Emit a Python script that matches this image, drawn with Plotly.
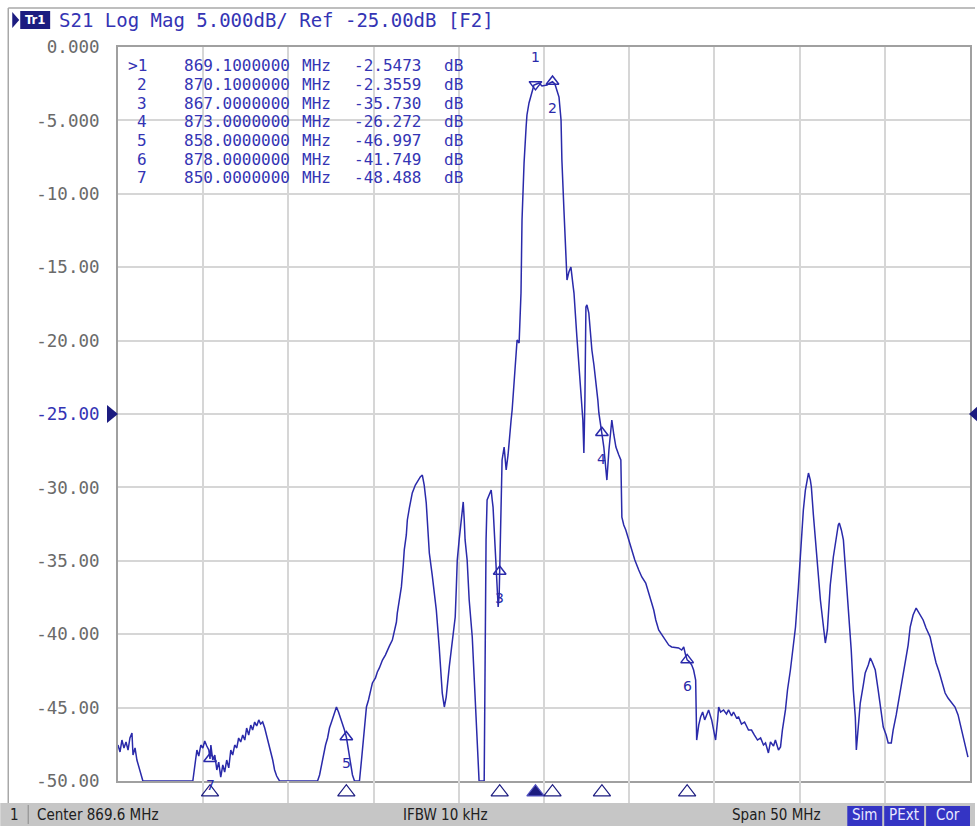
import plotly.graph_objects as go

# ---------------- data ----------------
freq_mhz = [
    844.60, 844.72, 844.83, 844.95, 845.07, 845.19, 845.30, 845.42, 845.48, 845.60,
    845.71, 845.83, 845.95, 846.06, 848.99, 849.11, 849.23, 849.34, 849.46, 849.58,
    849.69, 849.81, 849.93, 850.00, 850.05, 850.16, 850.28, 850.40, 850.51, 850.63,
    850.75, 850.86, 850.98, 851.10, 851.22, 851.33, 851.45, 851.57, 851.68, 851.80,
    851.92, 852.04, 852.15, 852.27, 852.39, 852.50, 852.62, 852.74, 852.86, 852.97,
    853.09, 853.21, 853.32, 853.44, 853.56, 853.68, 853.79, 853.91, 854.08, 856.31,
    856.43, 856.54, 856.66, 856.78, 856.90, 857.01, 857.13, 857.25, 857.36, 857.42,
    857.54, 857.66, 857.77, 857.89, 858.00, 858.12, 858.24, 858.36, 858.48, 858.77,
    858.89, 859.00, 859.12, 859.18, 859.30, 859.41, 859.53, 859.71, 859.82, 859.94,
    860.12, 860.29, 860.41, 860.53, 860.70, 860.82, 860.94, 860.99, 861.11, 861.23,
    861.34, 861.40, 861.52, 861.58, 861.70, 861.87, 862.05, 862.22, 862.34, 862.46,
    862.57, 862.69, 862.81, 862.87, 863.04, 863.16, 863.28, 863.45, 863.57, 863.63,
    863.75, 863.86, 864.04, 864.16, 864.27, 864.39, 864.45, 864.51, 864.62, 864.74,
    864.80, 864.86, 864.92, 864.97, 865.09, 865.21, 865.39, 865.50, 865.62, 865.74,
    865.79, 866.09, 866.15, 866.20, 866.26, 866.38, 866.50, 866.56, 866.61, 866.73,
    866.85, 866.91, 866.97, 867.00, 867.08, 867.14, 867.26, 867.38, 867.49, 867.55,
    867.67, 867.73, 867.84, 867.96, 868.02, 868.14, 868.19, 868.25, 868.31, 868.43,
    868.55, 868.60, 868.72, 868.84, 869.01, 869.10, 869.31, 869.48, 869.66, 869.78,
    869.95, 870.10, 870.24, 870.36, 870.48, 870.60, 870.65, 870.77, 870.89, 870.95,
    871.06, 871.18, 871.30, 871.36, 871.53, 871.65, 871.77, 871.88, 871.94, 872.00,
    872.06, 872.12, 872.23, 872.41, 872.53, 872.64, 872.76, 872.82, 872.94, 873.00,
    873.05, 873.11, 873.23, 873.29, 873.41, 873.52, 873.58, 873.70, 873.82, 873.99,
    874.11, 874.17, 874.28, 874.40, 874.58, 874.75, 874.93, 875.16, 875.34, 875.57,
    875.75, 875.92, 876.04, 876.16, 876.33, 876.51, 876.74, 876.92, 877.09, 877.33,
    877.50, 877.68, 877.80, 877.91, 878.00, 878.15, 878.27, 878.38, 878.50, 878.56,
    878.68, 878.79, 878.91, 879.03, 879.14, 879.26, 879.44, 879.55, 879.67, 879.79,
    879.85, 879.96, 880.14, 880.31, 880.43, 880.61, 880.72, 880.90, 881.02, 881.19,
    881.37, 881.60, 881.78, 881.95, 882.13, 882.31, 882.48, 882.60, 882.77, 882.89,
    883.07, 883.18, 883.36, 883.48, 883.59, 883.77, 883.89, 884.06, 884.24, 884.36,
    884.53, 884.65, 884.82, 884.94, 885.06, 885.12, 885.23, 885.29, 885.41, 885.53,
    885.70, 885.82, 885.94, 886.05, 886.11, 886.23, 886.29, 886.40, 886.58, 886.76,
    886.87, 886.93, 887.05, 887.17, 887.28, 887.34, 887.46, 887.63, 887.75, 887.87,
    887.93, 888.04, 888.16, 888.34, 888.45, 888.63, 888.75, 888.86, 889.04, 889.21,
    889.33, 889.51, 889.68, 889.80, 889.98, 890.09, 890.27, 890.39, 890.56, 890.68,
    890.80, 890.97, 891.09, 891.26, 891.44, 891.56, 891.67, 891.85, 892.02, 892.26,
    892.43, 892.61, 892.79, 892.96, 893.14, 893.31, 893.49, 893.72, 893.90, 894.07,
    894.25, 894.37, 894.48,
]
s21_db = [
    -47.55, -48.02, -47.21, -47.75, -47.34, -47.89, -47.07, -46.73, -48.23, -47.75,
    -48.57, -49.11, -49.59, -50.00, -50.00, -48.91, -47.89, -48.30, -47.55, -47.75,
    -47.28, -47.62, -47.89, -48.49, -47.55, -48.57, -48.23, -49.25, -48.71, -49.73,
    -48.91, -49.39, -48.57, -49.11, -47.89, -48.23, -47.55, -47.75, -47.07, -47.34,
    -46.87, -47.21, -46.39, -46.87, -46.19, -46.53, -45.98, -46.25, -45.84, -46.12,
    -45.98, -46.39, -46.87, -47.55, -48.02, -48.57, -49.25, -49.66, -50.00, -50.00,
    -49.59, -48.91, -48.23, -47.55, -47.07, -46.39, -45.98, -45.50, -45.16, -44.96,
    -45.30, -45.71, -45.98, -46.53, -47.00, -47.89, -48.91, -49.59, -50.00, -50.00,
    -48.57, -47.21, -45.50, -44.96, -44.48, -43.80, -43.32, -42.98, -42.57, -42.30,
    -41.76, -41.42, -41.08, -40.80, -40.40, -39.85, -39.17, -38.56, -37.67, -36.78,
    -35.29, -34.26, -33.24, -32.22, -31.40, -30.38, -29.84, -29.50, -29.29, -29.16,
    -29.84, -31.06, -32.90, -34.47, -35.97, -37.13, -38.35, -40.87, -42.78, -44.01,
    -44.96, -44.28, -42.23, -41.08, -40.05, -38.83, -36.99, -34.95, -33.58, -32.22,
    -31.20, -30.99, -32.22, -33.58, -34.95, -37.67, -40.19, -43.12, -46.32, -48.57,
    -50.00, -50.00, -40.40, -33.58, -30.86, -30.52, -30.18, -30.86, -31.34, -34.06,
    -36.78, -38.15, -37.33, -35.73, -33.38, -28.13, -27.25, -28.81, -27.79, -26.77,
    -25.41, -24.73, -22.68, -20.64, -19.96, -20.16, -18.60, -16.76, -11.78, -7.90,
    -5.45, -4.63, -3.81, -3.27, -2.59, -2.55, -2.45, -2.66, -2.59, -2.59,
    -2.45, -2.36, -2.52, -2.93, -3.41, -4.97, -7.70, -11.10, -14.99, -15.87,
    -15.33, -14.99, -16.21, -16.76, -19.75, -21.66, -23.57, -25.41, -27.66, -24.05,
    -17.71, -17.57, -18.12, -20.64, -21.66, -22.68, -24.05, -24.93, -26.09, -26.27,
    -26.77, -27.25, -28.81, -29.50, -27.45, -25.89, -25.41, -26.43, -27.25, -27.79,
    -28.13, -32.02, -32.56, -32.90, -33.58, -34.26, -34.95, -35.63, -36.10, -36.51,
    -37.13, -37.87, -38.35, -39.03, -39.71, -40.05, -40.40, -40.74, -40.87, -40.94,
    -40.94, -41.08, -40.87, -41.42, -41.75, -41.90, -42.10, -42.44, -43.12, -47.21,
    -46.19, -45.64, -45.30, -45.84, -45.50, -45.16, -45.84, -46.53, -47.21, -45.84,
    -44.96, -45.30, -45.16, -45.44, -45.16, -45.57, -45.30, -45.71, -45.64, -46.12,
    -45.98, -46.53, -46.53, -46.87, -47.21, -47.07, -47.55, -47.41, -48.09, -47.34,
    -47.62, -47.21, -47.89, -47.68, -46.53, -45.16, -43.80, -42.44, -40.74, -39.51,
    -36.78, -34.26, -31.54, -30.18, -29.50, -29.02, -29.50, -29.97, -31.88, -33.79,
    -35.97, -37.67, -39.03, -40.40, -40.60, -39.71, -38.35, -36.65, -34.74, -33.24,
    -32.56, -32.43, -32.90, -33.58, -35.29, -36.51, -38.69, -41.08, -43.80, -45.64,
    -47.89, -46.53, -44.69, -43.46, -42.64, -42.10, -41.62, -41.89, -42.44, -43.80,
    -44.82, -46.32, -46.87, -47.41, -47.41, -46.53, -45.50, -44.69, -43.66, -42.78,
    -41.96, -40.74, -39.51, -38.69, -38.22, -38.49, -38.69, -39.03, -39.58, -40.19,
    -41.08, -41.96, -42.57, -43.32, -44.01, -44.35, -44.62, -44.96, -45.50, -46.32,
    -47.21, -47.75, -48.37,
]

marker_ids = ["1", "2", "3", "4", "5", "6", "7"]
marker_freq = [869.1, 870.1, 867.0, 873.0, 858.0, 878.0, 850.0]
marker_db = [-2.5473, -2.3559, -35.730, -26.272, -46.997, -41.749, -48.488]
marker_freq_text = ["869.1000000", "870.1000000", "867.0000000", "873.0000000",
                    "858.0000000", "878.0000000", "850.0000000"]
marker_db_text = ["-2.5473", "-2.3559", "-35.730", "-26.272", "-46.997", "-41.749", "-48.488"]
active_marker = 0

y_ticks = [0, -5, -10, -15, -20, -25, -30, -35, -40, -45, -50]
y_tick_text = ["0.000", "-5.000", "-10.00", "-15.00", "-20.00", "-25.00",
               "-30.00", "-35.00", "-40.00", "-45.00", "-50.00"]
ref_level_db = -25.0
center_mhz = 869.6
span_mhz = 50.0
header_text = "S21 Log Mag 5.000dB/ Ref -25.00dB [F2]"
status_center = "Center 869.6 MHz"
status_ifbw = "IFBW 10 kHz"
status_span = "Span 50 MHz"
status_flags = ["Sim", "PExt", "Cor"]

# ---------------- styling / layout ----------------
W, H = 977, 826
L, R, T, B = 118, 972, 47, 781   # grid box in page pixels
SB = 803                           # bottom of marker strip / top of status bar
TRACE = "#2a2aaa"
TEXTBLUE = "#3434b4"
NAVY = "#1c1c80"
MONO = "DejaVu Sans Mono, Liberation Mono, monospace"
COND = "DejaVu Sans Condensed, Liberation Sans Narrow, Liberation Sans, sans-serif"


def px(xp):
    return (xp - L) / (R - L)


def py(yp):
    return (SB - yp) / (SB - T)


x0 = center_mhz - span_mhz / 2
x1 = center_mhz + span_mhz / 2

fig = go.Figure()

fig.add_trace(go.Scatter(
    x=freq_mhz, y=s21_db, mode="lines",
    line=dict(color=TRACE, width=1.5), hoverinfo="skip", showlegend=False,
))

# marker triangles on the trace
sym = ["triangle-down-open" if i == active_marker else "triangle-up-open" for i in range(len(marker_ids))]
fig.add_trace(go.Scatter(
    x=marker_freq, y=marker_db, mode="markers",
    marker=dict(symbol=sym, size=11, color=TRACE, line=dict(color=TRACE, width=1.5)),
    hoverinfo="skip", showlegend=False, cliponaxis=False,
))

# marker triangles in the strip under the grid (own hidden y axis)
bot_sym = ["triangle-up" if i == active_marker else "triangle-up-open" for i in range(len(marker_ids))]
fig.add_trace(go.Scatter(
    x=marker_freq, y=[0.5] * len(marker_freq), mode="markers", yaxis="y2",
    marker=dict(symbol=bot_sym, size=15, color=NAVY, line=dict(color="#5050c0", width=1.2)),
    hoverinfo="skip", showlegend=False, cliponaxis=False,
))

annotations = []
for i, mid in enumerate(marker_ids):
    annotations.append(dict(
        x=marker_freq[i], y=marker_db[i], xref="x", yref="y", text=mid, showarrow=False,
        yshift=(27 if i == active_marker else -26),
        font=dict(family="DejaVu Sans", size=14, color=TRACE),
    ))

# marker table (each column centred on where it sits in the reference)
row0, row_h = 66, 18.6
for i, mid in enumerate(marker_ids):
    yy = py(row0 + i * row_h)
    prefix = ">" + mid if i == active_marker else mid
    common = dict(xref="paper", yref="paper", y=yy, yanchor="middle", showarrow=False,
                  font=dict(family=MONO, size=16, color=TEXTBLUE))
    annotations.append(dict(x=px(149), xanchor="right", text=prefix, **common))
    annotations.append(dict(x=px(237), xanchor="center", text=marker_freq_text[i], **common))
    annotations.append(dict(x=px(317), xanchor="center", text="MHz", **common))
    annotations.append(dict(x=px(388), xanchor="center", text=marker_db_text[i], **common))
    annotations.append(dict(x=px(454), xanchor="center", text="dB", **common))

# header
annotations.append(dict(x=px(57), y=py(20), xref="paper", yref="paper", xanchor="left",
                        yanchor="middle", showarrow=False, text=header_text,
                        font=dict(family=MONO, size=19, color=TEXTBLUE)))
annotations.append(dict(x=px(35), y=py(20), xref="paper", yref="paper", xanchor="center",
                        yanchor="middle", showarrow=False, text="<b>Tr1</b>",
                        font=dict(family=COND, size=13, color="white")))

# status bar texts
sb = dict(xref="paper", yref="paper", y=py(815), yanchor="middle", showarrow=False,
          font=dict(family=COND, size=15, color="#202020"))
annotations.append(dict(x=px(14), xanchor="center", text="1", **sb))
annotations.append(dict(x=px(35), xanchor="left", text=status_center, **sb))
annotations.append(dict(x=px(402), xanchor="left", text=status_ifbw, **sb))
annotations.append(dict(x=px(731), xanchor="left", text=status_span, **sb))
flag_boxes = [(849, 884), (886, 926), (928, 972)]
for (a, b), t in zip(flag_boxes, status_flags):
    annotations.append(dict(x=px((a + b) / 2), xanchor="center", text=t,
                            xref="paper", yref="paper", y=py(815), yanchor="middle",
                            showarrow=False, font=dict(family=COND, size=15, color="#e8e8ff")))

shapes = [
    # status bar
    dict(type="rect", xref="paper", yref="paper", x0=px(0), x1=px(W), y0=py(803), y1=py(H),
         fillcolor="#c6c6c6", line=dict(width=0), layer="below"),
    dict(type="line", xref="paper", yref="paper", x0=px(28), x1=px(28), y0=py(805), y1=py(824),
         line=dict(color="#8a8a8a", width=1)),
    # outer frame
    dict(type="line", xref="paper", yref="paper", x0=px(8), x1=px(W), y0=py(8), y1=py(8),
         line=dict(color="#a8a8a8", width=1.5)),
    dict(type="line", xref="paper", yref="paper", x0=px(8), x1=px(8), y0=py(8), y1=py(803),
         line=dict(color="#a8a8a8", width=1.5)),
    # Tr1 box and active arrow
    dict(type="rect", xref="paper", yref="paper", x0=px(20), x1=px(50), y0=py(11), y1=py(29),
         fillcolor=NAVY, line=dict(width=0)),
    dict(type="path", xref="paper", yref="paper",
         path=f"M {px(12)},{py(12)} L {px(19)},{py(20)} L {px(12)},{py(28)} Z",
         fillcolor=NAVY, line=dict(width=0)),
    # reference level arrows
    dict(type="path", xref="paper", yref="paper",
         path=f"M {px(107)},{py(405)} L {px(118)},{py(414)} L {px(107)},{py(423)} Z",
         fillcolor=NAVY, line=dict(width=0)),
    dict(type="path", xref="paper", yref="paper",
         path=f"M {px(981)},{py(405)} L {px(971)},{py(414)} L {px(981)},{py(423)} Z",
         fillcolor=NAVY, line=dict(width=0)),
]
for (a, b) in flag_boxes:
    shapes.append(dict(type="rect", xref="paper", yref="paper", x0=px(a), x1=px(b),
                       y0=py(806), y1=py(826), fillcolor="#3434c4", line=dict(width=0),
                       layer="below"))

tick_text = [
    f'<span style="color:{TEXTBLUE}">{t}</span>' if v == ref_level_db else t
    for v, t in zip(y_ticks, y_tick_text)
]

grid_bottom = (SB - B) / (SB - T)

fig.update_layout(
    width=W, height=H,
    margin=dict(l=L, r=W - R, t=T, b=H - SB, pad=0),
    paper_bgcolor="white", plot_bgcolor="white",
    showlegend=False,
    xaxis=dict(range=[x0, x1], tick0=x0, dtick=span_mhz / 10, showticklabels=False,
               anchor="y",
               showgrid=True, gridcolor="#d6d6d6", gridwidth=2, zeroline=False,
               showline=True, linecolor="#a0a0a0", linewidth=2, mirror=True, ticks=""),
    yaxis=dict(range=[-50, 0], tickvals=y_ticks, ticktext=tick_text,
               domain=[grid_bottom, 1],
               showgrid=True, gridcolor="#d6d6d6", gridwidth=2, zeroline=False,
               showline=True, linecolor="#a0a0a0", linewidth=2, mirror=True, ticks="",
               ticklabelstandoff=13,
               tickfont=dict(family=MONO, size=17.5, color="#6a6a6a")),
    yaxis2=dict(range=[0, 1], domain=[0, grid_bottom * 0.98], anchor="x",
                visible=False, showgrid=False, zeroline=False),
    annotations=annotations,
    shapes=shapes,
)

fig.write_html(
    "out.html",
    config={"displayModeBar": False},
    post_script="document.body.style.margin='0';document.body.style.padding='0';",
)
